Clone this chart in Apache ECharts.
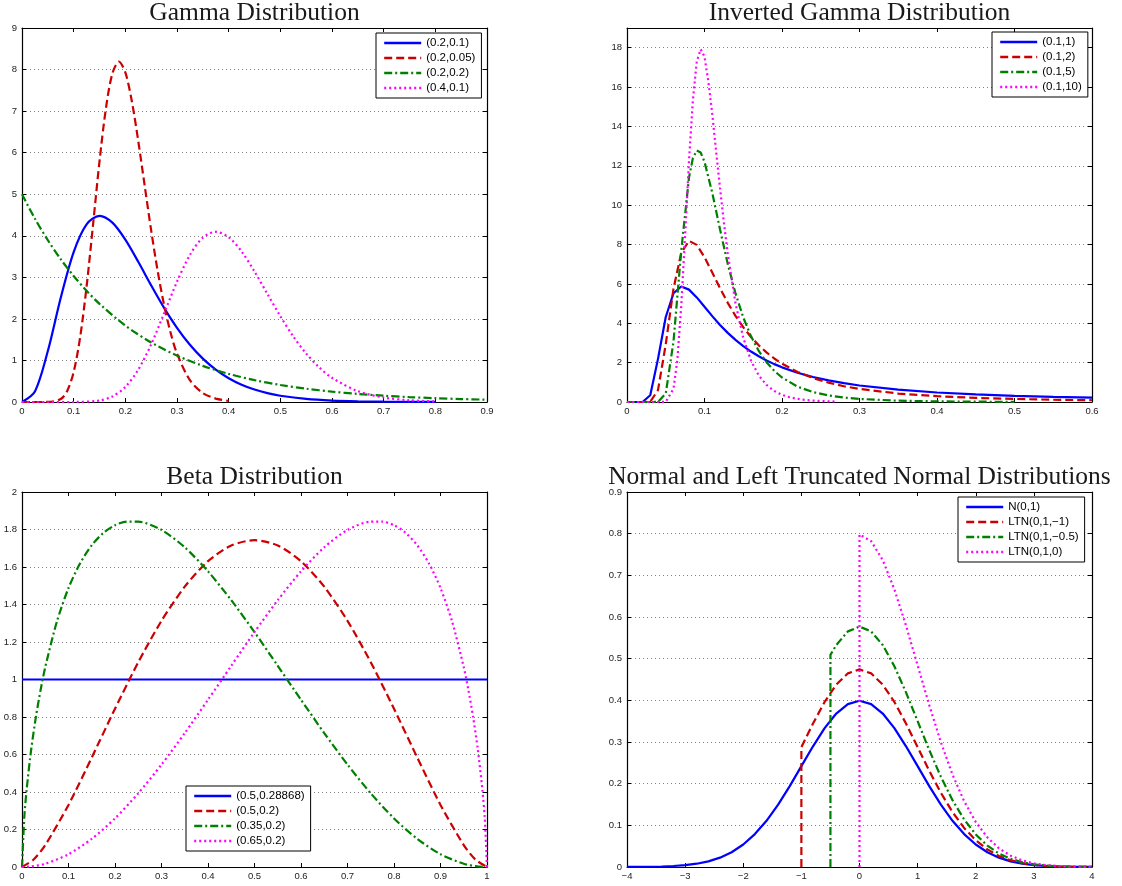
<!DOCTYPE html>
<html>
<head>
<meta charset="utf-8">
<script src="https://cdn.jsdelivr.net/npm/echarts@6/dist/echarts.min.js"></script>
<style>
html,body{margin:0;padding:0;background:#fff;}
#chart{width:1122px;height:886px;}
</style>
</head>
<body>
<div id="chart"></div>
<script>
// ---------------- Gamma Distribution ----------------
const gammaBlueX = [0,0.025,0.05,0.075,0.1,0.125,0.15,0.175,0.2,0.225,0.25,0.275,0.3,0.325,0.35,0.375,0.4,0.425,0.45,0.475,0.5,0.55,0.6,0.65,0.7,0.75,0.8];
const gammaBlueY = [0,0.253,1.226,2.510,3.609,4.275,4.481,4.316,3.907,3.374,2.807,2.266,1.785,1.376,1.043,0.778,0.573,0.417,0.300,0.214,0.151,0.074,0.035,0.017,0.008,0.003,0.002];
const gammaRedX = [0,0.025,0.05,0.075,0.0875,0.1,0.1125,0.125,0.1375,0.15,0.1625,0.175,0.1875,0.2,0.2125,0.225,0.2375,0.25,0.2625,0.275,0.2875,0.3,0.325,0.35,0.375,0.4];
const gammaRedY = [0,0,0.001,0.071,0.265,0.722,1.553,2.776,4.266,5.79,7.074,7.91,8.19,7.93,7.245,6.28,5.201,4.13,3.158,2.334,1.673,1.165,0.524,0.216,0.082,0.029];
const gammaGreenX = [0,0.025,0.05,0.075,0.1,0.125,0.15,0.2,0.25,0.3,0.35,0.4,0.45,0.5,0.55,0.6,0.65,0.7,0.75,0.8,0.85,0.9];
const gammaGreenY = [5,4.412,3.894,3.436,3.033,2.676,2.362,1.839,1.433,1.116,0.869,0.677,0.527,0.410,0.320,0.249,0.194,0.151,0.118,0.092,0.071,0.056];
const gammaMagX = [0,0.05,0.1,0.15,0.175,0.2,0.225,0.25,0.275,0.3,0.325,0.35,0.375,0.4,0.425,0.45,0.475,0.5,0.525,0.55,0.575,0.6,0.65,0.7,0.75,0.8];
const gammaMagY = [0,0,0.0006,0.036,0.133,0.361,0.777,1.388,2.133,2.895,3.537,3.955,4.095,3.965,3.623,3.14,2.601,2.065,1.579,1.167,0.837,0.583,0.262,0.108,0.041,0.015];
const gammaNames = ['(0.2,0.1)','(0.2,0.05)','(0.2,0.2)','(0.4,0.1)'];

// ---------------- Inverted Gamma Distribution ----------------
const igBlueX = [0,0.01,0.02,0.03,0.04,0.05,0.06,0.07,0.08,0.09,0.1,0.11,0.12,0.13,0.14,0.15,0.16,0.17,0.18,0.19,0.2,0.22,0.24,0.26,0.28,0.3,0.35,0.4,0.45,0.5,0.55,0.6];
const igBlueY = [0,0,0.001,0.343,2.191,4.319,5.526,5.869,5.708,5.313,4.839,4.362,3.915,3.512,3.154,2.840,2.564,2.322,2.110,1.924,1.760,1.487,1.270,1.096,0.955,0.839,0.625,0.483,0.384,0.313,0.259,0.219];
const igRedX = [0,0.01,0.02,0.03,0.04,0.05,0.06,0.07,0.08,0.09,0.1,0.11,0.12,0.13,0.14,0.15,0.16,0.17,0.18,0.19,0.2,0.22,0.24,0.26,0.28,0.3,0.35,0.4,0.45,0.5,0.55,0.6];
const igRedY = [0,0,0,0.011,0.603,2.931,5.757,7.576,8.188,7.982,7.358,6.576,5.780,5.038,4.376,3.800,3.304,2.880,2.519,2.210,1.947,1.528,1.216,0.982,0.802,0.663,0.430,0.294,0.209,0.154,0.116,0.090];
const igGreenX = [0,0.01,0.02,0.03,0.04,0.05,0.06,0.07,0.08,0.085,0.09,0.095,0.1,0.11,0.12,0.13,0.14,0.15,0.16,0.17,0.18,0.19,0.2,0.22,0.24,0.26,0.28,0.3,0.35,0.4,0.45,0.5];
const igGreenY = [0,0,0,0,0.006,0.432,3.073,7.687,11.403,12.391,12.773,12.673,12.204,10.632,8.773,7.017,5.515,4.297,3.337,2.593,2.021,1.581,1.244,0.782,0.504,0.333,0.224,0.155,0.066,0.031,0.016,0.009];
const igMagX = [0,0.01,0.02,0.03,0.04,0.05,0.06,0.065,0.07,0.075,0.08,0.085,0.09,0.095,0.1,0.105,0.11,0.115,0.12,0.125,0.13,0.14,0.15,0.16,0.17,0.18,0.19,0.2,0.21,0.22,0.23,0.24,0.25,0.26,0.27];
const igMagY = [0,0,0,0,0,0.011,0.667,2.154,4.876,8.483,12.262,15.32,17.293,17.918,17.547,16.27,14.639,12.72,10.885,9.118,7.540,5.016,3.263,2.100,1.347,0.866,0.560,0.364,0.239,0.157,0.106,0.072,0.049,0.034,0.024];
const igNames = ['(0.1,1)','(0.1,2)','(0.1,5)','(0.1,10)'];

// ---------------- Beta Distribution ----------------
const betaBlueX = [0,1];
const betaBlueY = [1,1];
const betaRedX = [0,0.025,0.05,0.1,0.15,0.2,0.25,0.3,0.35,0.4,0.45,0.5,0.55,0.6,0.65,0.7,0.75,0.8,0.85,0.9,0.95,0.975,1];
const betaRedY = [0,0.040,0.117,0.331,0.584,0.844,1.092,1.313,1.495,1.631,1.715,1.743,1.715,1.631,1.495,1.313,1.092,0.844,0.584,0.331,0.117,0.040,0];
const betaGreenX = [0,0.005,0.01,0.02,0.03,0.04,0.05,0.075,0.1,0.125,0.15,0.175,0.2,0.225,0.25,0.3,0.35,0.4,0.45,0.5,0.55,0.6,0.65,0.7,0.75,0.8,0.85,0.9,0.95,0.98,1];
const betaGreenY = [0,0.268,0.414,0.632,0.802,0.944,1.066,1.309,1.488,1.620,1.716,1.782,1.823,1.842,1.842,1.798,1.705,1.577,1.423,1.253,1.073,0.892,0.714,0.546,0.393,0.259,0.150,0.068,0.017,0.003,0];
const betaMagX = [0,0.02,0.05,0.1,0.15,0.2,0.25,0.3,0.35,0.4,0.45,0.5,0.55,0.6,0.65,0.7,0.75,0.775,0.8,0.825,0.85,0.875,0.9,0.925,0.95,0.96,0.97,0.98,0.99,0.995,1];
const betaMagY = [0,0.003,0.017,0.068,0.150,0.259,0.393,0.546,0.714,0.892,1.073,1.253,1.423,1.577,1.705,1.798,1.842,1.842,1.823,1.782,1.716,1.620,1.488,1.309,1.066,0.944,0.802,0.632,0.414,0.268,0];
const betaNames = ['(0.5,0.28868)','(0.5,0.2)','(0.35,0.2)','(0.65,0.2)'];

// ---------------- Normal and Left Truncated Normal ----------------
const normBlueX = [-4,-3.8,-3.6,-3.4,-3.2,-3,-2.8,-2.6,-2.4,-2.2,-2,-1.8,-1.6,-1.4,-1.2,-1,-0.8,-0.6,-0.4,-0.2,0,0.2,0.4,0.6,0.8,1,1.2,1.4,1.6,1.8,2,2.2,2.4,2.6,2.8,3,3.2,3.4,3.6,3.8,4];
const normBlueY = [0.0001,0.0003,0.0006,0.0012,0.0024,0.0044,0.0079,0.0136,0.0224,0.0355,0.0540,0.0790,0.1109,0.1497,0.1942,0.2420,0.2897,0.3332,0.3683,0.3910,0.3989,0.3910,0.3683,0.3332,0.2897,0.2420,0.1942,0.1497,0.1109,0.0790,0.0540,0.0355,0.0224,0.0136,0.0079,0.0044,0.0024,0.0012,0.0006,0.0003,0.0001];
const normRedX = [-1,-1,-0.8,-0.6,-0.4,-0.2,0,0.2,0.4,0.6,0.8,1,1.2,1.4,1.6,1.8,2,2.2,2.4,2.6,2.8,3,3.2,3.4,3.6,3.8,4];
const normRedY = [0,0.2876,0.3443,0.3961,0.4377,0.4648,0.4742,0.4648,0.4377,0.3961,0.3443,0.2876,0.2308,0.1780,0.1318,0.0938,0.0642,0.0422,0.0266,0.0161,0.0094,0.0053,0.0028,0.0015,0.0007,0.0003,0.0002];
const normGreenX = [-0.5,-0.5,-0.4,-0.2,0,0.2,0.4,0.6,0.8,1,1.2,1.4,1.6,1.8,2,2.2,2.4,2.6,2.8,3,3.2,3.4,3.6,3.8,4];
const normGreenY = [0,0.5092,0.5326,0.5655,0.5769,0.5655,0.5326,0.4819,0.4190,0.3499,0.2808,0.2165,0.1604,0.1142,0.0781,0.0513,0.0324,0.0196,0.0114,0.0064,0.0034,0.0018,0.0009,0.0004,0.0002];
const normMagX = [0,0,0.2,0.4,0.6,0.8,1,1.2,1.4,1.6,1.8,2,2.2,2.4,2.6,2.8,3,3.2,3.4,3.6,3.8,4];
const normMagY = [0,0.7979,0.7821,0.7365,0.6664,0.5794,0.4839,0.3884,0.2995,0.2218,0.1579,0.1080,0.0710,0.0448,0.0272,0.0158,0.0089,0.0048,0.0025,0.0012,0.0006,0.0003];
const normNames = ['N(0,1)','LTN(0,1,\u22121)','LTN(0,1,\u22120.5)','LTN(0,1,0)'];

const titles = ['Gamma Distribution','Inverted Gamma Distribution','Beta Distribution','Normal and Left Truncated Normal Distributions'];

// ---------------- layout / styling ----------------
const pairs = (xs, ys) => xs.map((x, i) => [x, ys[i]]);
const lineStyles = [
  {color:'#0000ff', type:'solid'},
  {color:'#cc0000', type:[8,4]},
  {color:'#008000', type:[8,3,2,3]},
  {color:'#ff00ff', type:[2,3]}
];
const panels = [
  {grid:{left:22, top:28, width:465, height:374}, x:[0,0.9,0.1], y:[0,9,1], names:gammaNames,
   data:[pairs(gammaBlueX,gammaBlueY),pairs(gammaRedX,gammaRedY),pairs(gammaGreenX,gammaGreenY),pairs(gammaMagX,gammaMagY)],
   smooth:0.3, legend:{left:376, top:33}, titleTop:0},
  {grid:{left:627, top:28, width:465, height:374}, x:[0,0.6,0.1], y:[0,19,2], hideMax:true, names:igNames,
   data:[pairs(igBlueX,igBlueY),pairs(igRedX,igRedY),pairs(igGreenX,igGreenY),pairs(igMagX,igMagY)],
   smooth:false, legend:{left:992, top:32}, titleTop:0},
  {grid:{left:22, top:492, width:465, height:375}, x:[0,1,0.1], y:[0,2,0.2], names:betaNames,
   data:[pairs(betaBlueX,betaBlueY),pairs(betaRedX,betaRedY),pairs(betaGreenX,betaGreenY),pairs(betaMagX,betaMagY)],
   smooth:0.25, legend:{left:186, top:786}, titleTop:464},
  {grid:{left:627, top:492, width:465, height:375}, x:[-4,4,1], y:[0,0.9,0.1], names:normNames,
   data:[pairs(normBlueX,normBlueY),pairs(normRedX,normRedY),pairs(normGreenX,normGreenY),pairs(normMagX,normMagY)],
   smooth:false, legend:{left:958, top:497}, titleTop:464}
];

const labelFont = {fontFamily:'Liberation Sans', fontSize:9.5, color:'#222'};
const minusFmt = v => (v < 0 ? '\u2212' + (-v) : String(v));

const option = {
  backgroundColor:'#fff',
  animation:false,
  title:[], grid:[], xAxis:[], yAxis:[], legend:[], series:[]
};

panels.forEach((p, gi) => {
  option.grid.push(Object.assign({containLabel:false}, p.grid));
  option.title.push({
    text: titles[gi], left: p.grid.left + p.grid.width/2, top: p.titleTop, textAlign:'center', padding:0,
    textStyle:{fontFamily:'Liberation Serif', fontSize:25.5, fontWeight:'normal', color:'#1a1a1a'}
  });
  const tick = {show:true, inside:true, length:4, lineStyle:{color:'#000', width:1}};
  const axLine = {show:true, onZero:false, lineStyle:{color:'#000', width:1.2}};
  option.xAxis.push({type:'value', gridIndex:gi, position:'bottom', min:p.x[0], max:p.x[1], interval:p.x[2],
    axisLine:axLine, axisTick:tick, splitLine:{show:false},
    axisLabel:Object.assign({margin:4, formatter:minusFmt}, labelFont)});
  option.xAxis.push({type:'value', gridIndex:gi, position:'top', min:p.x[0], max:p.x[1], interval:p.x[2],
    axisLine:axLine, axisTick:tick, splitLine:{show:false}, axisLabel:{show:false}});
  option.yAxis.push({type:'value', gridIndex:gi, position:'left', min:p.y[0], max:p.y[1], interval:p.y[2],
    axisLine:axLine, axisTick:tick,
    splitLine:{show:true, lineStyle:{color:'#808080', type:[1,3], width:1}},
    axisLabel:Object.assign({margin:5, showMaxLabel:!p.hideMax}, labelFont)});
  option.yAxis.push({type:'value', gridIndex:gi, position:'right', min:p.y[0], max:p.y[1], interval:p.y[2],
    axisLine:axLine, axisTick:tick, splitLine:{show:false}, axisLabel:{show:false}});

  option.legend.push({
    data:p.names, left:p.legend.left, top:p.legend.top, orient:'vertical',
    selectedMode:false, backgroundColor:'#fff', borderColor:'#000', borderWidth:1,
    padding:[4,6,4,7], itemGap:3, itemWidth:37, itemHeight:12,
    itemStyle:{opacity:0, borderWidth:0},
    lineStyle:{width:2.4},
    textStyle:{fontFamily:'Liberation Sans', fontSize:11.5, color:'#000'}
  });

  p.data.forEach((d, si) => {
    option.series.push({
      type:'line', name:p.names[si], xAxisIndex:gi*2, yAxisIndex:gi*2,
      data:d, symbol:'none', showSymbol:false, smooth:p.smooth, clip:true,
      lineStyle:{color:lineStyles[si].color, type:lineStyles[si].type, width:2.2},
      itemStyle:{color:lineStyles[si].color}
    });
  });
});

const chart = echarts.init(document.getElementById('chart'), null, {renderer:'canvas'});
chart.setOption(option);
</script>
</body>
</html>
